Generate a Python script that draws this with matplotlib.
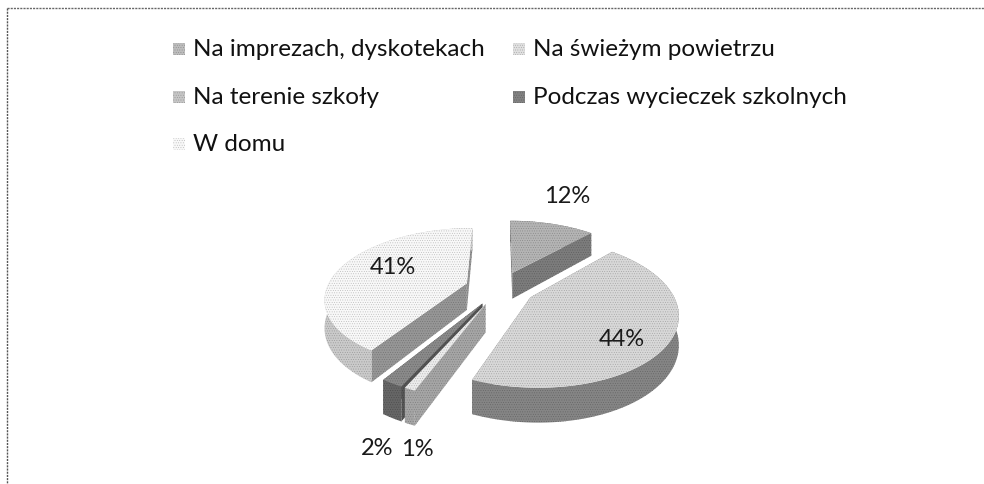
import numpy as np
import matplotlib
matplotlib.use("Agg")
import matplotlib.pyplot as plt
from matplotlib.colors import to_rgb
from matplotlib.patches import Polygon, Rectangle

plt.rcParams['font.family'] = ['Lato', 'DejaVu Sans']
plt.rcParams['hatch.linewidth'] = 0.3

categories = ['Na imprezach, dyskotekach', 'Na świeżym powietrzu', 'Na terenie szkoły',
              'Podczas wycieczek szkolnych', 'W domu']
values = [12, 44, 1, 2, 41]
top_greys = ['#b4b4b4', '#d8d8d8', '#ececec', '#8a8a8a', '#f8f8f8']
wall_greys = ['#7c7c7c', '#858585', '#a5a5a5', '#666666', '#cacaca']
radial_greys = ['#7c7c7c', '#858585', '#a5a5a5', '#555555', '#969696']
draw_order = [0, 4, 1, 3, 2]
legend_boxes = ['#bdbdbd', '#e0e0e0', '#c6c6c6', '#828282', '#f8f8f8']

CX, CY, RX, RY, K, DEPTH, EXPLODE = 500, 289, 140, 68, 0.2, 27, 0.25


def project(u, v, drop=0.0):
    s = 1 / (1 + K * v)
    return CX + RX * u * s, CY - RY * v * s + DEPTH * drop * s


def darker(col, f=0.72):
    return tuple(c * f for c in to_rgb(col))


fig = plt.figure(figsize=(9.84, 4.85), dpi=100)
ax = fig.add_axes([0, 0, 1, 1])
ax.set_xlim(0, 984)
ax.set_ylim(485, 0)
ax.axis('off')

ax.plot([7, 7], [9, 485], color='#555555', lw=1.0, ls=(0, (1.5, 0.8)))
ax.plot([7, 984], [9, 9], color='#666666', lw=1.0, ls=(0, (1.5, 0.8)))


def face(pts, col, z):
    ax.add_patch(Polygon(pts, closed=True, facecolor=col, edgecolor=darker(col), lw=0,
                         hatch='.......', zorder=z))


total = sum(values)
starts = np.cumsum([0] + values[:-1]) / total * 2 * np.pi
spans = np.array(values) / total * 2 * np.pi
for order, i in enumerate(draw_order):
    a = np.linspace(starts[i], starts[i] + spans[i], 80)
    mid = starts[i] + spans[i] / 2
    ox, oy = EXPLODE * np.sin(mid), EXPLODE * np.cos(mid)
    us, vs = ox + np.sin(a), oy + np.cos(a)
    top_arc = [project(u, v) for u, v in zip(us, vs)]
    bot_arc = [project(u, v, 1) for u, v in zip(us, vs)]
    apex_t, apex_b = project(ox, oy), project(ox, oy, 1)
    z = 2 + order * 5
    # radial walls, then the outer wall, then the top
    face([apex_t, top_arc[0], bot_arc[0], apex_b], radial_greys[i], z)
    face([apex_t, top_arc[-1], bot_arc[-1], apex_b], radial_greys[i], z + 1)
    face(top_arc + bot_arc[::-1], wall_greys[i], z + 2)
    face([apex_t] + top_arc, top_greys[i], z + 3)

label_pos = [(567, 197), (622, 340), (417, 450), (377, 449), (393, 268)]
for v, (x, y) in zip(values, label_pos):
    ax.text(x, y, f'{v}%', ha='center', va='center', fontsize=17, color='#1a1a1a', zorder=60)

legend_pos = [(173, 50), (513, 50), (173, 98), (513, 98), (173, 145)]
for name, col, (x, y) in zip(categories, legend_boxes, legend_pos):
    ax.add_patch(Rectangle((x, y - 6), 12, 12, facecolor=col, edgecolor=darker(col), lw=0,
                           hatch='.......', zorder=3))
    ax.text(x + 20, y, name, ha='left', va='center', fontsize=17.5, color='#111111', zorder=60)

fig.savefig('out.png', dpi=100)
